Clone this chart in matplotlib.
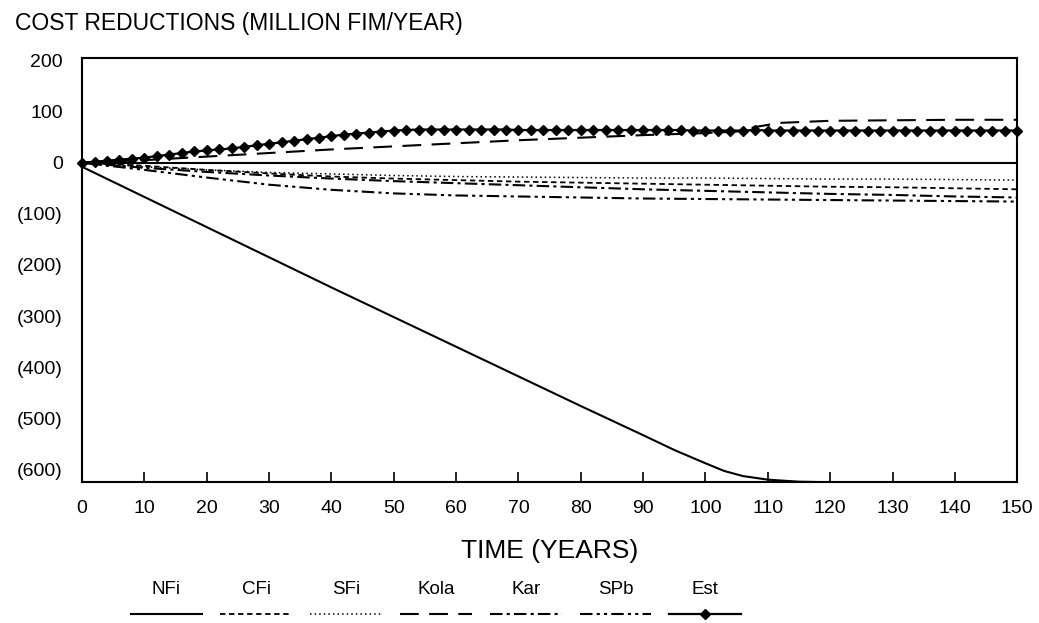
import matplotlib
matplotlib.use('Agg')
import matplotlib.pyplot as plt
import numpy as np
from matplotlib.ticker import FuncFormatter

plt.rcParams['font.family'] = ['Liberation Sans', 'DejaVu Sans']

# years for the smoother series
years = [0, 10, 20, 30, 40, 50, 60, 70, 80, 90, 100, 110, 120, 130, 140, 150]
sfi = [0, -8, -14, -19, -22, -25, -27, -28, -29, -30, -30, -31, -32, -32, -33, -34]
cfi = [0, -6, -14, -21, -27, -31, -34, -37, -39, -41, -43, -45, -47, -48, -50, -52]
kar = [0, -10, -18, -25, -31, -36, -40, -44, -48, -52, -55, -58, -61, -63, -66, -68]
spb = [0, -14, -29, -43, -53, -60, -64, -66, -68, -70, -71, -72, -73, -74, -75, -76]

# NFi falls steeply then levels off at the bottom
nfi_years = [0, 10, 20, 30, 40, 50, 60, 70, 80, 90, 95, 100, 103, 106, 110, 115, 120, 130, 140, 150]
nfi = [-8, -67, -126, -185, -244, -302, -360, -418, -476, -533, -562, -588, -603,
       -613, -620, -624, -625, -625, -625, -625]

kola_years = [0, 10, 20, 30, 40, 50, 60, 70, 80, 90, 100, 105, 108, 112, 120, 130, 140, 150]
kola = [0, 5, 12, 19, 26, 32, 38, 44, 49, 54, 58, 61, 70, 78, 82, 83, 84, 84]

# Est has a marker every 2 years
est_years = list(range(0, 151, 2))
est = [0, 2, 4, 6, 8, 10, 13, 16, 19, 22, 24, 26, 28, 31, 34, 37, 40, 43, 46, 49,
       52, 55, 57, 59, 61, 63, 64, 65, 65, 65, 65, 65, 65, 65, 65, 64, 64, 64, 64, 64,
       64, 64, 64, 64, 64, 64, 64, 64, 64, 63, 63, 63, 63, 63, 64, 63, 63, 63, 63, 63,
       63, 63, 63, 63, 63, 63, 63, 63, 63, 63, 63, 63, 63, 63, 63, 63]

y_ticks = [200, 100, 0, -100, -200, -300, -400, -500, -600]
x_ticks = list(range(0, 151, 10))

styles = {
    'NFi': dict(color='black', lw=1.5, ls='-'),
    'CFi': dict(color='black', lw=1.3, ls=(0, (3, 2))),
    'SFi': dict(color='black', lw=1.1, ls=(0, (1, 2))),
    'Kola': dict(color='black', lw=1.5, ls=(0, (9, 5))),
    'Kar': dict(color='black', lw=1.5, ls=(0, (6, 2, 1.5, 2))),
    'SPb': dict(color='black', lw=1.5, ls=(0, (6, 2, 1.5, 2, 1.5, 2))),
    'Est': dict(color='black', lw=1.6, ls='-', marker='D', ms=5.2),
}

fig = plt.figure(figsize=(10.39, 6.23), dpi=100)
ax = fig.add_axes([0.079, 0.226, 0.900, 0.681])

ax.axhline(0, color='black', lw=1.5)
ax.plot(nfi_years, nfi, **styles['NFi'])
ax.plot(years, cfi, **styles['CFi'])
ax.plot(years, sfi, **styles['SFi'])
ax.plot(kola_years, kola, **styles['Kola'])
ax.plot(years, kar, **styles['Kar'])
ax.plot(years, spb, **styles['SPb'])
ax.plot(est_years, est, clip_on=False, **styles['Est'])

ax.set_xlim(0, 150)
ax.set_ylim(-625, 205)
ax.set_xticks(x_ticks)
ax.set_yticks(y_ticks)
ax.yaxis.set_major_formatter(FuncFormatter(lambda v, p: f'({abs(v):.0f})' if v < 0 else f'{v:.0f}'))
ax.tick_params(axis='x', direction='in', length=7, width=1.2, pad=13, labelsize=14)
ax.tick_params(axis='y', length=0, pad=14, labelsize=14)
for s in ax.spines.values():
    s.set_linewidth(1.5)

ax.set_xlabel('TIME (YEARS)', fontsize=19, labelpad=16)
fig.text(0.014, 0.962, 'COST REDUCTIONS (MILLION FIM/YEAR)', fontsize=16.5, va='center', ha='left')

# legend: names above line samples
leg = fig.add_axes([0.117, 0.0, 0.605, 0.075])
leg.set_xlim(0, 7)
leg.set_ylim(0, 1)
leg.axis('off')
for i, name in enumerate(styles):
    st = dict(styles[name])
    if 'marker' in st:
        leg.plot([i + 0.1, i + 0.5, i + 0.9], [0.2, 0.2, 0.2], markevery=[1], **st)
    else:
        leg.plot([i + 0.1, i + 0.9], [0.2, 0.2], **st)
    leg.text(i + 0.5, 0.72, name, ha='center', va='center', fontsize=13.5)

fig.savefig('out.png', dpi=100)
